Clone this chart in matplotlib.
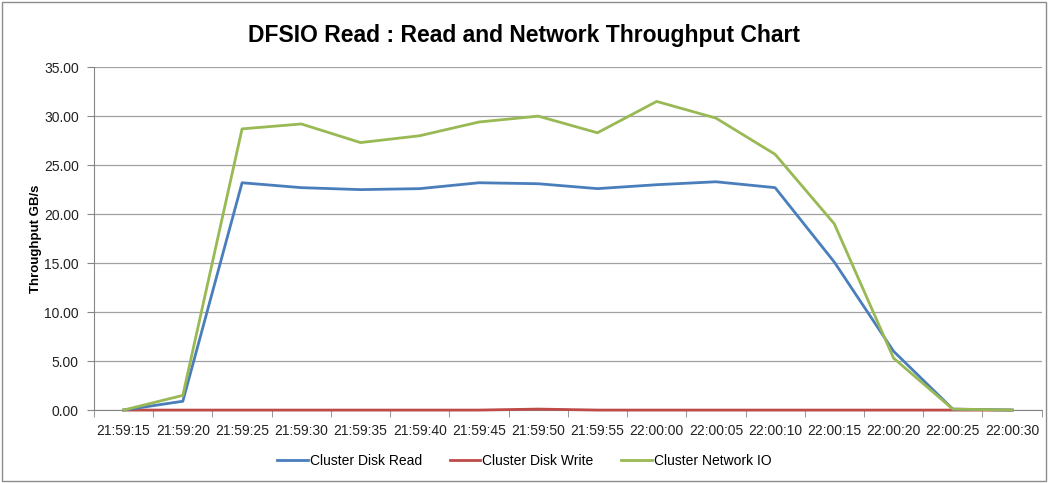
import matplotlib
matplotlib.use('Agg')
import matplotlib.pyplot as plt
from matplotlib.patches import Rectangle
import numpy as np

times = ['21:59:15', '21:59:20', '21:59:25', '21:59:30', '21:59:35', '21:59:40',
         '21:59:45', '21:59:50', '21:59:55', '22:00:00', '22:00:05', '22:00:10',
         '22:00:15', '22:00:20', '22:00:25', '22:00:30']
disk_read = [0.0, 0.9, 23.2, 22.7, 22.5, 22.6, 23.2, 23.1, 22.6, 23.0, 23.3, 22.7,
             15.1, 6.0, 0.1, 0.0]
disk_write = [0.0, 0.0, 0.0, 0.0, 0.0, 0.0, 0.0, 0.1, 0.0, 0.0, 0.0, 0.0,
              0.0, 0.0, 0.0, 0.0]
network_io = [0.0, 1.5, 28.7, 29.2, 27.3, 28.0, 29.4, 30.0, 28.3, 31.5, 29.8, 26.1,
              19.0, 5.3, 0.1, 0.0]

plt.rcParams['font.family'] = ['Liberation Sans', 'DejaVu Sans']

fig = plt.figure(figsize=(10.49, 4.83), dpi=100)
fig.patches.append(Rectangle((0.002, 0.004), 0.995, 0.992, transform=fig.transFigure,
                             fill=False, edgecolor='#8c8c8c', linewidth=1))
ax = fig.add_axes([0.0896, 0.151, 0.9034, 0.710])

x = np.arange(len(times))
ax.plot(x, disk_read, color='#4a7ebb', lw=2.0, label='Cluster Disk Read',
        zorder=4, clip_on=False)
ax.plot(x, disk_write, color='#be4b48', lw=2.0, label='Cluster Disk Write',
        zorder=3, clip_on=False)
ax.plot(x, network_io, color='#98b954', lw=2.0, label='Cluster Network IO',
        zorder=5, clip_on=False)

ax.set_xlim(-0.5, len(times) - 0.5)
ax.set_ylim(0, 35)
ax.set_yticks(np.arange(0, 36, 5))
ax.set_yticklabels(['%.2f' % v for v in np.arange(0, 36, 5)], fontsize=10, color='#222222')
ax.set_xticks(x)
ax.set_xticklabels(times, fontsize=10, color='#222222')
ax.set_xticks(np.arange(-0.5, len(times), 1), minor=True)
ax.tick_params(axis='x', which='major', length=0, pad=10)
ax.tick_params(axis='x', which='minor', length=5, color='#868686')
ax.tick_params(axis='y', length=5, color='#868686', pad=6)

ax.grid(axis='y', color='#a0a0a0', lw=0.9)
ax.set_axisbelow(True)
for s in ['top', 'right']:
    ax.spines[s].set_visible(False)
ax.spines['left'].set_color('#868686')
ax.spines['bottom'].set_color('#868686')
ax.spines['bottom'].set_zorder(2)

ax.set_ylabel('Throughput GB/s', fontsize=9.5, fontweight='bold')
ax.yaxis.set_label_coords(-0.055, 0.5)
fig.suptitle('DFSIO Read : Read and Network Throughput Chart', fontsize=16.5,
             fontweight='bold', y=0.95)

fig.legend(loc='lower center', bbox_to_anchor=(0.5, 0.005), ncol=3, frameon=False,
           fontsize=10, handlelength=2.2, handletextpad=0.15, columnspacing=2.0)

fig.savefig('out.png', dpi=100)
